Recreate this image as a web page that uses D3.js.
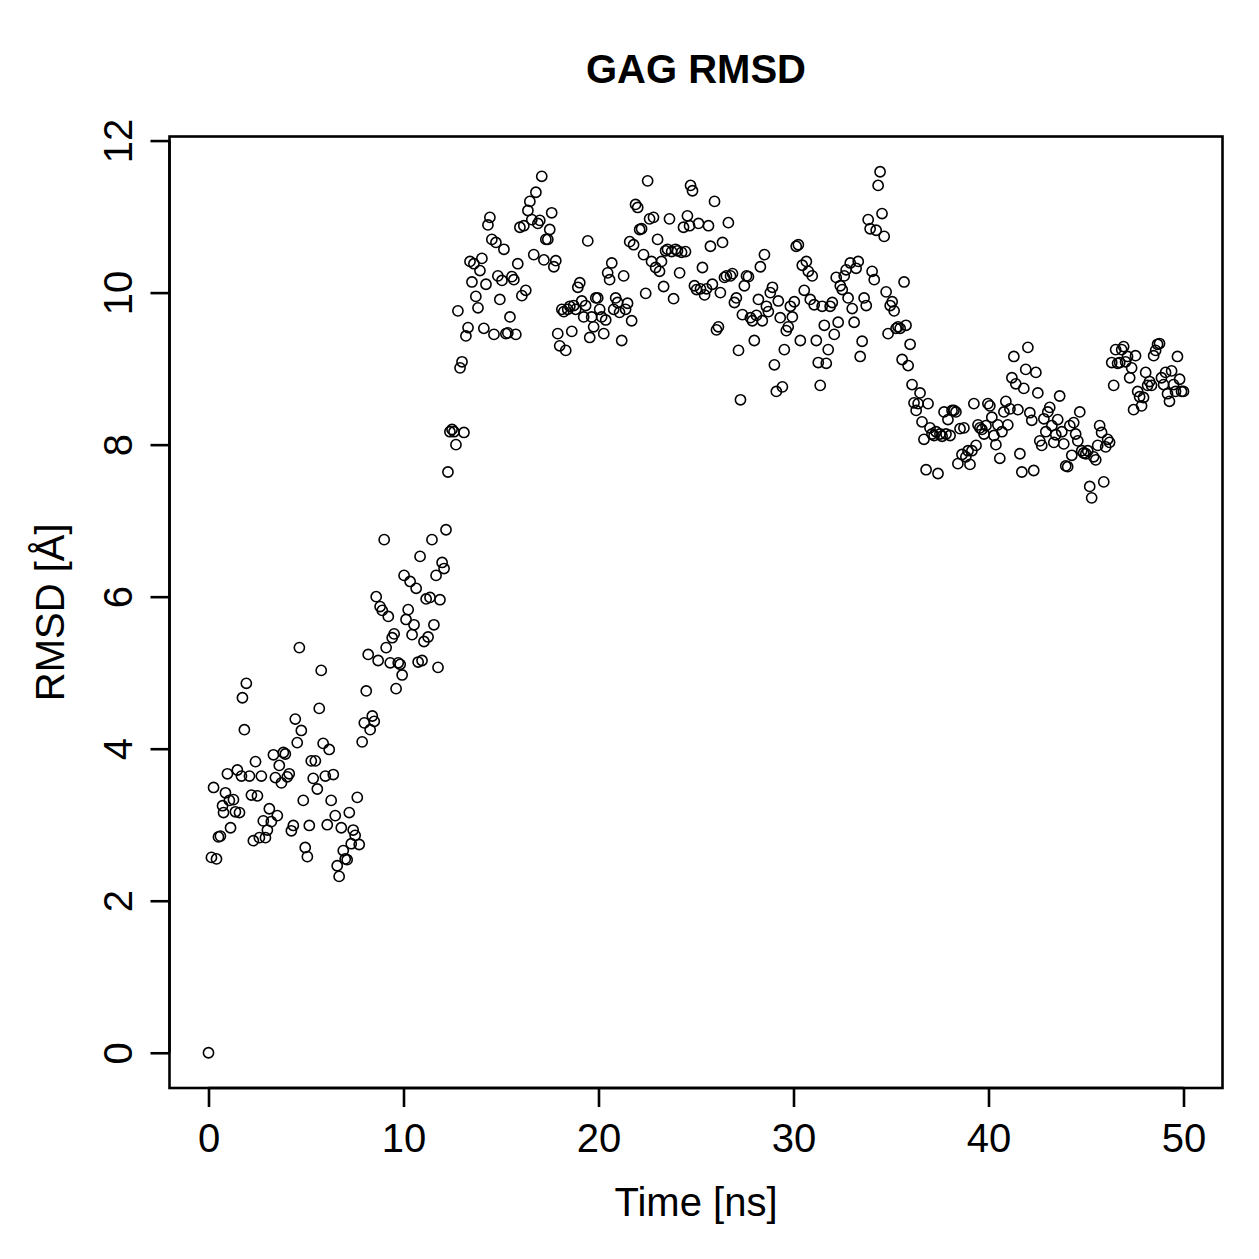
<!DOCTYPE html>
<html>
<head>
<meta charset="utf-8">
<script src="https://cdn.jsdelivr.net/npm/d3@7"></script>
<style>
  html, body { margin: 0; padding: 0; background: #fff; }
  svg { display: block; }
  text { font-family: "Liberation Sans", Arial, Helvetica, sans-serif; fill: #000; }
</style>
</head>
<body>
<svg id="chart" width="1259" height="1259"></svg>
<script>
const chartTitle = "GAG RMSD";
const xLabel = "Time [ns]";
const yLabel = "RMSD [Å]";
const xTicks = [0, 10, 20, 30, 40, 50];
const yTicks = [0, 2, 4, 6, 8, 10, 12];

// Time (ns) of each frame
const timeNs = [
  0, 0.15, 0.26, 0.41, 0.51, 0.61, 0.72, 0.77, 0.87, 0.97,
  1.07, 1.13, 1.28, 1.38, 1.48, 1.59, 1.69, 1.74, 1.84, 1.94,
  2.10,
  2.20, 2.30, 2.41, 2.51, 2.61, 2.71, 2.81, 2.92, 3.02, 3.12,
  3.22, 3.33, 3.43, 3.53, 3.63, 3.74, 3.84, 3.94, 4.04, 4.14,
  4.25, 4.35, 4.45, 4.55, 4.66, 4.76, 4.86, 4.96, 5.07, 5.17,
  5.27, 5.37, 5.48, 5.58, 5.68, 5.78, 5.88, 5.99, 6.09, 6.19,
  6.29, 6.40, 6.50, 6.60, 6.70, 6.81, 6.91, 7.01, 7.11, 7.22,
  7.32, 7.42, 7.52, 7.63, 7.73,
  7.88, 7.99, 8.09, 8.19, 8.29, 8.40, 8.50, 8.60, 8.70, 8.80,
  8.91, 9.01, 9.11, 9.22, 9.32, 9.42, 9.52, 9.62, 9.73, 9.83,
  9.93, 10.03, 10.13, 10.24, 10.34, 10.44, 10.54, 10.65, 10.75, 10.85,
  10.95, 11.05, 11.16, 11.26, 11.36, 11.46, 11.56, 11.67, 11.77, 11.87,
  11.98, 12.08, 12.18, 12.28, 12.38, 12.49, 12.59, 12.69, 12.79, 12.90,
  13.00, 13.10, 13.20, 13.31, 13.41, 13.51, 13.61, 13.71, 13.82, 13.92,
  14.02, 14.12, 14.23, 14.33, 14.43, 14.53, 14.64, 14.74, 14.84, 14.94,
  15.05, 15.15, 15.25, 15.35, 15.46, 15.56, 15.66, 15.76, 15.86, 15.97,
  16.07, 16.17, 16.27, 16.38, 16.48, 16.58, 16.68, 16.79, 16.89, 16.99,
  17.09, 17.20, 17.30, 17.40, 17.50, 17.60, 17.71, 17.81, 17.91, 18.01,
  18.12, 18.22, 18.32, 18.42, 18.53, 18.63, 18.73, 18.83, 18.94, 19.04,
  19.14, 19.24, 19.34, 19.45, 19.55, 19.65, 19.75, 19.86, 19.96, 20.06,
  20.16, 20.27, 20.37, 20.47, 20.57, 20.68, 20.78, 20.88, 20.98, 21.08,
  21.19, 21.29, 21.39, 21.49, 21.60, 21.70, 21.80, 21.90, 22.01, 22.11,
  22.21, 22.31, 22.42, 22.52, 22.62, 22.72, 22.82, 22.93, 23.03, 23.13,
  23.23, 23.34, 23.44, 23.54, 23.64, 23.75, 23.85, 23.95, 24.05, 24.16,
  24.26, 24.36, 24.46, 24.56, 24.67,
  24.72, 24.82, 24.92, 25.03, 25.13, 25.23, 25.33, 25.44, 25.54, 25.64,
  25.74, 25.84, 25.95, 26.05, 26.15, 26.25, 26.36, 26.46, 26.56, 26.66,
  26.77, 26.87, 26.97, 27.07, 27.18, 27.28, 27.38, 27.48, 27.59, 27.69,
  27.79, 27.89, 27.99, 28.10, 28.20, 28.30, 28.40, 28.51, 28.61, 28.71,
  28.81, 28.92, 29.02, 29.12, 29.22, 29.32, 29.43, 29.53, 29.63, 29.73,
  29.84, 29.94, 30.04, 30.14, 30.25, 30.35, 30.45, 30.55, 30.66, 30.76,
  30.86, 30.96, 31.06, 31.17, 31.27, 31.37, 31.47, 31.58, 31.68, 31.78,
  31.88, 31.99, 32.09, 32.19, 32.29, 32.40, 32.50, 32.60, 32.70, 32.80,
  32.91, 33.01, 33.11, 33.21, 33.32, 33.42, 33.52, 33.62, 33.73, 33.83,
  33.93, 34.03, 34.14, 34.24, 34.34, 34.44, 34.54, 34.65, 34.75, 34.85,
  34.96, 35.06, 35.16, 35.26, 35.36, 35.47, 35.57, 35.67, 35.77, 35.88,
  35.98, 36.08, 36.18, 36.29, 36.39, 36.49, 36.59, 36.69, 36.80, 36.90,
  37.00, 37.10, 37.21, 37.31, 37.41, 37.51, 37.62, 37.72, 37.82, 37.92,
  38.03, 38.13, 38.23, 38.33, 38.43, 38.54, 38.64, 38.74, 38.84, 38.95,
  39.05, 39.15, 39.25, 39.36, 39.46, 39.56, 39.66, 39.77, 39.87, 39.97,
  40.07, 40.17, 40.28, 40.38, 40.48, 40.58, 40.69, 40.79, 40.89, 40.99,
  41.10, 41.20, 41.30, 41.40, 41.51, 41.61, 41.71, 41.81, 41.91, 42.02,
  42.12, 42.22, 42.32, 42.43, 42.53, 42.63, 42.73, 42.84, 42.94, 43.04,
  43.14, 43.25, 43.35, 43.45, 43.55, 43.65, 43.76, 43.86, 43.96, 44.06,
  44.17, 44.27, 44.37, 44.47, 44.58, 44.68, 44.78, 44.88, 44.99, 45.09,
  45.19, 45.29, 45.39, 45.50, 45.60, 45.70, 45.80, 45.91, 46.01, 46.11,
  46.21, 46.32, 46.42, 46.52, 46.62, 46.73, 46.83, 46.93, 47.03, 47.13,
  47.24, 47.34, 47.44, 47.54, 47.65, 47.75, 47.85, 47.95, 48.06, 48.16,
  48.26, 48.36, 48.47, 48.57, 48.67, 48.77, 48.87, 48.98, 49.08, 49.18,
  49.28, 49.39, 49.49, 49.59, 49.69, 49.80, 49.90, 50.00
];

// RMSD (Å) of each frame
const rmsd = [
  0, 2.57, 3.49, 2.55, 2.84, 2.85, 3.25, 3.16, 3.42, 3.67,
  3.32, 2.96, 3.33, 3.17, 3.72, 3.16, 3.64, 4.67, 4.25, 4.86,
  3.64,
  3.39, 2.79, 3.83, 3.38, 2.83, 3.64, 3.05, 2.83, 2.93, 3.21,
  3.04, 3.92, 3.62, 3.12, 3.78, 3.55, 3.95, 3.93, 3.63, 3.67,
  2.92, 2.99, 4.39, 4.08, 5.33, 4.24, 3.32, 2.70, 2.58, 2.99,
  3.84, 3.61, 3.84, 3.47, 4.53, 5.03, 4.07, 3.64, 3.00, 3.99,
  3.32, 3.66, 3.12, 2.46, 2.32, 2.96, 2.66, 2.55, 2.54, 3.16,
  2.75, 2.93, 2.86, 3.36, 2.74,
  4.09, 4.34, 4.76, 5.24, 4.25, 4.43, 4.36, 6.00, 5.16, 5.87,
  5.82, 6.75, 5.33, 5.74, 5.13, 5.46, 5.51, 4.79, 5.13, 5.11,
  4.97, 6.28, 5.70, 5.83, 6.20, 5.50, 5.63, 6.11, 5.14, 6.53,
  5.16, 5.41, 5.97, 5.47, 5.99, 6.75, 5.63, 6.28, 5.07, 5.96,
  6.45, 6.37, 6.88, 7.64, 8.17, 8.20, 8.17, 8.00, 9.76, 9.01,
  9.09, 8.16, 9.43, 9.54, 10.41, 10.14, 10.38, 9.95, 9.80, 10.29,
  10.45, 9.53, 10.11, 10.89, 10.99, 10.70, 9.45, 10.66, 10.22, 9.91,
  10.16, 10.57, 9.46, 9.47, 9.68, 10.21, 10.17, 9.45, 10.38, 10.86,
  9.96, 10.88, 10.03, 11.08, 11.20, 10.96, 10.50, 11.32, 10.91, 10.95,
  11.53, 10.43, 10.70, 10.70, 10.83, 11.05, 10.34, 10.42, 9.46, 9.30,
  9.78, 9.75, 9.24, 9.78, 9.82, 9.49, 9.83, 9.78, 10.07, 10.13,
  9.89, 9.68, 9.83, 10.68, 9.41, 9.68, 9.55, 9.93, 9.93, 9.78,
  9.68, 9.46, 9.64, 10.26, 10.17, 10.39, 9.78, 9.93, 9.87, 9.74,
  9.37, 10.22, 9.78, 9.86, 10.67, 9.63, 10.63, 11.16, 11.12, 10.83,
  10.84, 10.50, 9.99, 11.47, 10.97, 10.41, 10.99, 10.33, 10.70, 10.28,
  10.41, 10.08, 10.55, 10.57, 10.97, 10.54, 9.92, 10.57, 10.55, 10.26,
  10.53, 10.86, 10.54, 11.01, 10.88,
  11.41, 11.34, 10.09, 10.04, 10.91, 10.05, 10.33, 9.97, 10.05, 10.88,
  10.61, 10.11, 11.20, 9.51, 9.55, 10.00, 10.66, 10.20, 10.22, 10.92,
  10.22, 10.25, 9.87, 9.93, 9.24, 8.59, 9.71, 10.09, 10.22, 10.21,
  9.67, 9.63, 9.37, 9.70, 9.91, 10.34, 9.63, 10.50, 9.82, 9.75,
  10.00, 10.07, 9.05, 8.70, 9.89, 9.67, 8.76, 9.25, 9.50, 9.55,
  9.82, 9.68, 9.88, 10.61, 10.63, 9.37, 10.36, 10.03, 10.41, 10.28,
  9.91, 10.22, 9.84, 9.37, 9.08, 8.78, 9.82, 9.57, 9.07, 9.25,
  9.82, 9.87, 9.45, 10.20, 9.61, 10.09, 10.04, 10.22, 10.30, 9.93,
  10.39, 9.79, 9.61, 10.32, 10.41, 9.16, 9.36, 9.93, 9.83, 10.96,
  10.84, 10.28, 10.17, 10.82, 11.41, 11.59, 11.04, 10.74, 10.01, 9.46,
  9.83, 9.88, 9.76, 9.53, 9.55, 9.53, 9.12, 10.14, 9.57, 9.04,
  9.32, 8.79, 8.55, 8.45, 8.54, 8.68, 8.30, 8.07, 7.67, 8.54,
  8.22, 8.14, 8.12, 8.17, 7.62, 8.14, 8.11, 8.43, 8.14, 8.33,
  8.12, 8.45, 8.45, 8.43, 7.75, 8.21, 7.87, 8.22, 7.84, 7.92,
  7.74, 7.92, 8.54, 7.99, 8.26, 8.22, 8.20, 8.14, 8.25, 8.54,
  8.51, 8.36, 8.12, 8.00, 8.26, 7.82, 8.17, 8.43, 8.57, 8.26,
  8.47, 8.88, 9.16, 8.80, 8.46, 7.88, 7.64, 8.74, 8.99, 9.28,
  8.42, 8.32, 7.66, 8.95, 8.68, 8.05, 7.99, 8.34, 8.17, 8.43,
  8.49, 8.25, 8.03, 8.13, 8.33, 8.64, 8.17, 8.01, 7.72, 7.71,
  8.25, 7.86, 8.29, 8.14, 8.05, 8.43, 7.92, 7.89, 7.88, 7.92,
  7.45, 7.30, 7.84, 7.80, 7.99, 8.25, 8.16, 7.51, 7.97, 8.07,
  8.03, 9.08, 8.78, 9.25, 9.07, 9.08, 9.25, 9.29, 9.09, 9.16,
  8.88, 9.01, 8.46, 9.17, 8.70, 8.63, 8.51, 8.62, 8.95, 8.78,
  8.83, 8.78, 9.17, 9.24, 9.32, 9.33, 8.88, 8.79, 8.95, 8.67,
  8.57, 8.97, 8.79, 8.70, 9.16, 8.86, 8.70, 8.70
];

const data = d3.zip(timeNs, rmsd);

const box = { left: 169.5, right: 1222.5, top: 136.5, bottom: 1088 };

const svg = d3.select("#chart");

// R-style 4% axis padding
function padDomain(ext) {
  const d = (ext[1] - ext[0]) * 0.04;
  return [ext[0] - d, ext[1] + d];
}
const x = d3.scaleLinear().domain(padDomain(d3.extent(timeNs))).range([box.left, box.right]);
const y = d3.scaleLinear().domain(padDomain(d3.extent(rmsd))).range([box.bottom, box.top]);

const fontSize = 40;

// Points
svg.append("g")
  .selectAll("circle")
  .data(data)
  .join("circle")
  .attr("cx", d => x(d[0]))
  .attr("cy", d => y(d[1]))
  .attr("r", 5.1)
  .attr("fill", "none")
  .attr("stroke", "#000")
  .attr("stroke-width", 1.6);

// Frame
svg.append("rect")
  .attr("x", box.left).attr("y", box.top)
  .attr("width", box.right - box.left).attr("height", box.bottom - box.top)
  .attr("fill", "none").attr("stroke", "#000").attr("stroke-width", 2.6);

// X axis
const xAxis = d3.axisBottom(x).tickValues(xTicks).tickSize(19).tickPadding(10).tickFormat(d3.format("d"));
const gx = svg.append("g").attr("transform", `translate(0,${box.bottom})`).call(xAxis);
gx.select(".domain")
  .attr("d", `M${x(xTicks[0])},0H${x(xTicks[xTicks.length - 1])}`)
  .attr("stroke-width", 2.6);
gx.selectAll(".tick line").attr("stroke-width", 2.6);
gx.selectAll(".tick text")
  .attr("font-size", fontSize)
  .attr("font-family", "Liberation Sans, Arial, sans-serif")
  .attr("dy", null)
  .attr("y", 64);

// Y axis (labels rotated, R las=0 style)
const yAxis = d3.axisLeft(y).tickValues(yTicks).tickSize(19).tickFormat(d3.format("d"));
const gy = svg.append("g").attr("transform", `translate(${box.left},0)`).call(yAxis);
gy.select(".domain")
  .attr("d", `M0,${y(yTicks[0])}V${y(yTicks[yTicks.length - 1])}`)
  .attr("stroke-width", 2.6);
gy.selectAll(".tick line").attr("stroke-width", 2.6);
gy.selectAll(".tick text")
  .attr("font-size", fontSize)
  .attr("font-family", "Liberation Sans, Arial, sans-serif")
  .attr("x", null).attr("dy", null)
  .attr("text-anchor", "middle")
  .attr("transform", "translate(-38,0) rotate(-90)");

// Title
svg.append("text")
  .attr("x", (box.left + box.right) / 2)
  .attr("y", 83)
  .attr("text-anchor", "middle")
  .attr("font-size", 40)
  .attr("font-weight", "bold")
  .text(chartTitle);

// X label
svg.append("text")
  .attr("x", (box.left + box.right) / 2)
  .attr("y", 1216)
  .attr("text-anchor", "middle")
  .attr("font-size", fontSize)
  .text(xLabel);

// Y label
svg.append("text")
  .attr("transform", `translate(64,${(box.top + box.bottom) / 2}) rotate(-90)`)
  .attr("text-anchor", "middle")
  .attr("font-size", fontSize)
  .text(yLabel);
</script>
</body>
</html>
